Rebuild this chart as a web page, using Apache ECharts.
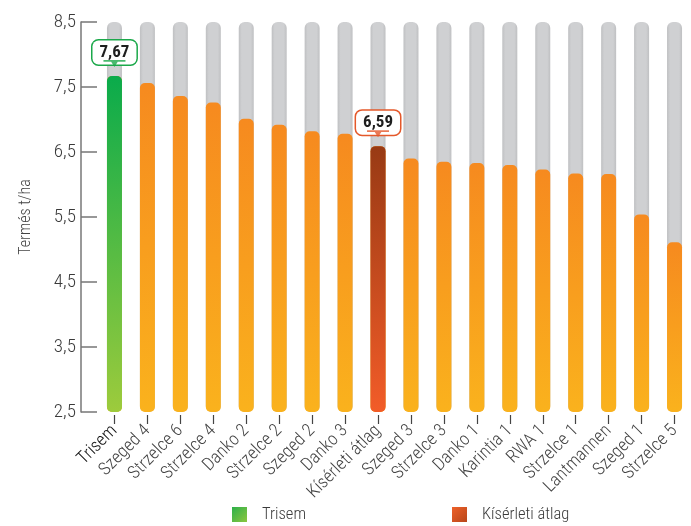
<!DOCTYPE html>
<html>
<head>
<meta charset="utf-8">
<script src="https://cdn.jsdelivr.net/npm/echarts@6/dist/echarts.min.js"></script>
<style>
html,body{margin:0;padding:0;background:#fff;}
#chart{width:691px;height:526px;}
</style>
</head>
<body>
<div id="chart"></div>
<script>
const categories = ['Trisem','Szeged 4','Strzelce 6','Strzelce 4','Danko 2','Strzelce 2','Szeged 2','Danko 3','Kísérleti átlag','Szeged 3','Strzelce 3','Danko 1','Karintia 1','RWA 1','Strzelce 1','Lantmannen','Szeged 1','Strzelce 5'];
const yields = [7.67,7.56,7.36,7.26,7.01,6.92,6.82,6.78,6.59,6.40,6.35,6.33,6.30,6.23,6.17,6.16,5.54,5.11];
const yTicks = [2.5,3.5,4.5,5.5,6.5,7.5,8.5];
const trisemName = 'Trisem';
const averageName = 'Kísérleti átlag';
const yAxisName = 'Termés t/ha';

const FONT = '"Roboto Condensed", "Open Sans", sans-serif';
const fmt = v => v.toFixed(2).replace('.', ',');
const fmtTick = v => v.toFixed(1).replace('.', ',');

const iTrisem = categories.indexOf(trisemName);
const iAvg = categories.indexOf(averageName);
const trisemData = categories.map((c, i) => i === iTrisem ? yields[i] : '-');
const avgData = categories.map((c, i) => i === iAvg ? yields[i] : '-');

const grad = (top, bottom) => new echarts.graphic.LinearGradient(0, 0, 0, 1, [{offset: 0, color: top}, {offset: 1, color: bottom}]);
const orange = grad('#F68A1F', '#FAB21D');
const green = grad('#0AAB4B', '#9DCB3C');
const red = grad('#983A14', '#F25C28');

const boxLabel = (border) => ({
  show: true,
  position: 'top',
  distance: 15,
  formatter: p => '{b|' + fmt(p.value) + '}',
  rich: {
    b: {
      backgroundColor: '#fff', borderColor: border, borderWidth: 1.5, borderRadius: 6,
      padding: [4, 7, 3, 7], fontWeight: 'bold', fontSize: 17, lineHeight: 17,
      color: '#1e1e1e', fontFamily: FONT
    }
  }
});

const legendText = {fontSize: 16.5, lineHeight: 16, color: '#3a3a3a', fontFamily: FONT, fontWeight: 300, padding: [0, 0, 0, 10]};

const chart = echarts.init(document.getElementById('chart'), null, {renderer: 'canvas'});
chart.setOption({
  animation: false,
  backgroundColor: '#fff',
  grid: {left: 98, top: 22, width: 603, height: 390, containLabel: false},
  legend: [
    {data: [{name: trisemName, itemStyle: {color: new echarts.graphic.LinearGradient(0, 0, 1, 1, [{offset: 0, color: '#2DB04A'}, {offset: 1, color: '#8CC63F'}])}}],
     left: 232, top: 506, padding: 0, itemWidth: 15, itemHeight: 15, icon: 'rect', textStyle: legendText},
    {data: [{name: averageName, itemStyle: {color: new echarts.graphic.LinearGradient(0, 0, 1, 1, [{offset: 0, color: '#EE6129'}, {offset: 1, color: '#B8461A'}])}}],
     left: 452, top: 506, padding: 0, itemWidth: 15, itemHeight: 15, icon: 'rect', textStyle: legendText}
  ],
  xAxis: {
    type: 'category',
    data: categories,
    offset: 3,
    axisLine: {show: false},
    axisTick: {show: true, alignWithLabel: true, length: 9, lineStyle: {color: '#444', width: 1.2}},
    axisLabel: {
      rotate: 45, margin: 13, fontSize: 18, fontFamily: FONT, fontWeight: 300, interval: 0,
      color: (v, i) => v === trisemName ? '#111' : '#444'
    }
  },
  yAxis: {
    type: 'value',
    min: yTicks[0], max: yTicks[yTicks.length - 1],
    startValue: yTicks[0],
    offset: 17,
    name: yAxisName,
    nameLocation: 'middle', nameRotate: 90, nameGap: 47,
    nameTextStyle: {fontSize: 16, color: '#444', fontFamily: FONT, fontWeight: 300},
    axisLine: {show: true, lineStyle: {color: '#777', width: 1.5}},
    axisTick: {show: true, inside: true, length: 16, customValues: yTicks, lineStyle: {color: '#777', width: 1.5}},
    axisLabel: {fontSize: 19, color: '#3a3a3a', fontFamily: FONT, fontWeight: 300, margin: 5, customValues: yTicks, formatter: fmtTick},
    splitLine: {show: false}
  },
  series: [
    {
      name: 'all', type: 'bar', data: yields, barWidth: 15, barGap: '-100%',
      itemStyle: {color: orange, borderRadius: 5},
      showBackground: true,
      backgroundStyle: {
        color: new echarts.graphic.LinearGradient(0, 0, 1, 0, [
          {offset: 0, color: '#BFC0C2'}, {offset: 0.2, color: '#CFD0D2'},
          {offset: 0.8, color: '#CFD0D2'}, {offset: 1, color: '#BFC0C2'}]),
        borderRadius: 6
      },
      z: 2
    },
    {
      name: trisemName, type: 'bar', data: trisemData, barWidth: 15, barGap: '-100%',
      itemStyle: {color: green, borderRadius: 5}, label: boxLabel('#1BA84A'), z: 3
    },
    {
      name: averageName, type: 'bar', data: avgData, barWidth: 15, barGap: '-100%',
      itemStyle: {color: red, borderRadius: 5}, label: boxLabel('#E4582A'), z: 3
    },
    {
      name: 'arrow1', type: 'scatter', data: trisemData,
      symbol: 'path://M0,0L20,0L20,1.5L13,1.5L10,6L7,1.5L0,1.5Z', symbolSize: [22, 7], symbolOffset: [0, -12.5],
      itemStyle: {color: '#1BA84A'}, z: 4, silent: true
    },
    {
      name: 'arrow2', type: 'scatter', data: avgData,
      symbol: 'path://M0,0L20,0L20,1.5L13,1.5L10,6L7,1.5L0,1.5Z', symbolSize: [22, 7], symbolOffset: [0, -12.5],
      itemStyle: {color: '#E4582A'}, z: 4, silent: true
    }
  ]
});
</script>
</body>
</html>
